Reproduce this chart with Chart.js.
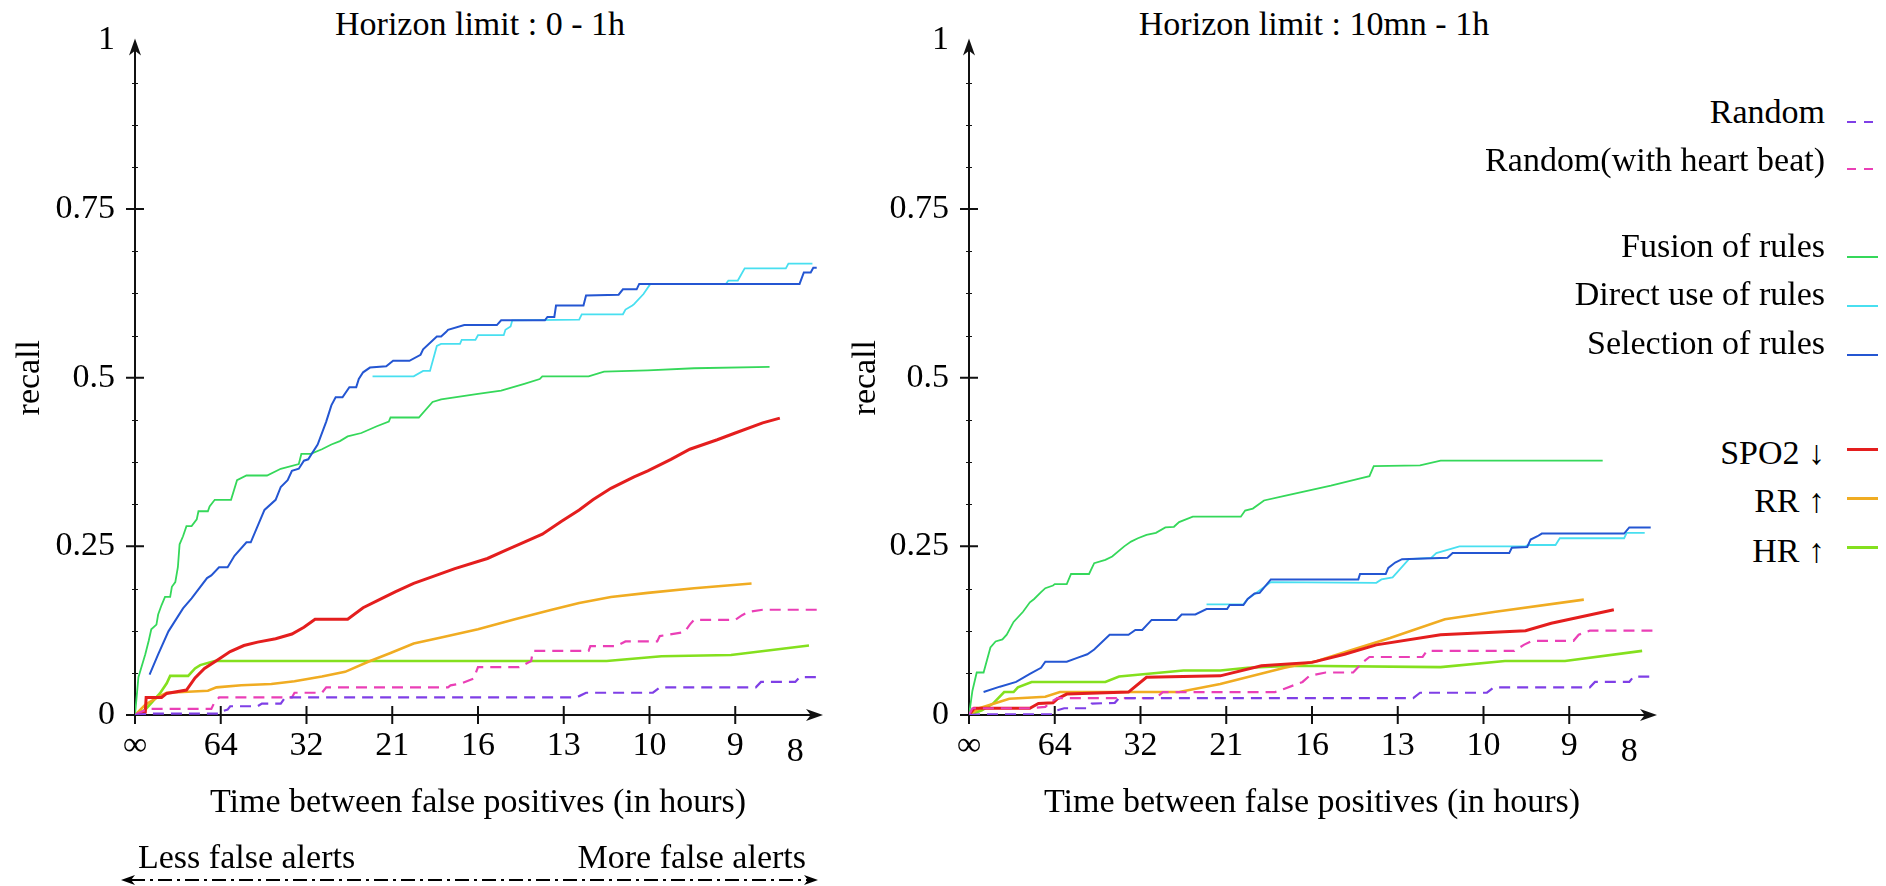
<!DOCTYPE html>
<html lang="en">
<head>
    <meta charset="UTF-8">
    <title>Recall vs time between false positives</title>
    <script src="https://cdn.jsdelivr.net/npm/chart.js"></script>
    <style>
        body {
            margin: 0;
            background: #fff;
            font-family: 'Liberation Serif', 'Times New Roman', serif;
            color: #000;
        }

        .page {
            position: relative;
            width: 1886px;
            height: 886px;
            overflow: hidden;
        }

        canvas {
            position: absolute;
            top: 0;
        }

        #leftChart { left: 0; }
        #rightChart { left: 840px; }

        .chart-title {
            position: absolute;
            top: 7px;
            font-size: 34px;
            line-height: 34px;
            white-space: nowrap;
            transform: translateX(-50%);
        }

        .key {
            position: absolute;
            right: 61px;
            font-size: 34px;
            line-height: 34px;
            white-space: nowrap;
        }

        .sample {
            position: absolute;
            left: 1847px;
            width: 31px;
        }
    </style>
</head>
<body>
<div class="page">
    <div class="chart-title" style="left:480px">Horizon limit : 0 - 1h</div>
    <div class="chart-title" style="left:1314px">Horizon limit : 10mn - 1h</div>
    <canvas id="leftChart" width="840" height="886"></canvas>
    <canvas id="rightChart" width="860" height="886"></canvas>
    <div id="legend"></div>
</div>

<script>
    // x axis: tick positions and their labels (hours between false positives)
    const xTickVals = [0, 1, 2, 3, 4, 5, 6, 7, 7.7];
    const xTickLabels = ['∞', '64', '32', '21', '16', '13', '10', '9', '8'];
    const yTickVals = [0, 0.25, 0.5, 0.75, 1];

    const seriesLabels = ['Random', 'Random(with heart beat)', 'Fusion of rules', 'Direct use of rules',
        'Selection of rules', 'SPO2 ↓', 'RR ↑', 'HR ↑'];

    // ---- Horizon limit : 0 - 1h ----
    const randomLeft = [[0,0],[0.15,0.002],[0.98,0.002],[1.0,0.005],[1.08,0.008],[1.11,0.013],[1.43,0.013],[1.48,0.017],[1.7,0.017],[1.75,0.026],[5.13,0.026],[5.18,0.028],[5.26,0.033],[6.04,0.033],[6.12,0.041],[7.24,0.041],[7.3,0.049],[7.7,0.049],[7.75,0.056],[7.99,0.056]];
    const randomHbLeft = [[0,0],[0.04,0.003],[0.15,0.009],[0.89,0.009],[0.92,0.017],[0.98,0.026],[1.83,0.026],[1.86,0.033],[2.18,0.033],[2.23,0.041],[3.65,0.041],[3.68,0.044],[3.81,0.047],[3.95,0.054],[4.0,0.071],[4.48,0.071],[4.62,0.08],[4.64,0.095],[5.29,0.095],[5.31,0.102],[5.61,0.102],[5.72,0.109],[6.09,0.109],[6.12,0.117],[6.41,0.123],[6.47,0.134],[6.52,0.141],[7.0,0.141],[7.08,0.148],[7.16,0.153],[7.32,0.156],[7.99,0.156]];
    const fusionLeft = [[0,0],[0.04,0.056],[0.08,0.073],[0.12,0.09],[0.16,0.11],[0.19,0.127],[0.25,0.134],[0.27,0.149],[0.31,0.163],[0.35,0.175],[0.41,0.175],[0.43,0.19],[0.47,0.197],[0.5,0.219],[0.52,0.253],[0.56,0.265],[0.6,0.28],[0.66,0.28],[0.72,0.29],[0.74,0.302],[0.85,0.302],[0.87,0.309],[0.93,0.319],[1.12,0.319],[1.19,0.348],[1.3,0.355],[1.54,0.355],[1.7,0.365],[1.91,0.372],[1.94,0.387],[2.05,0.387],[2.18,0.394],[2.29,0.401],[2.39,0.406],[2.48,0.413],[2.64,0.418],[2.82,0.428],[2.96,0.435],[2.98,0.441],[3.31,0.441],[3.47,0.464],[3.57,0.468],[4.0,0.476],[4.27,0.481],[4.54,0.491],[4.72,0.498],[4.75,0.502],[5.29,0.502],[5.47,0.509],[5.98,0.511],[6.52,0.514],[7.4,0.516]];
    const directLeft = [[2.77,0.502],[3.25,0.502],[3.36,0.51],[3.44,0.51],[3.52,0.547],[3.57,0.55],[3.79,0.55],[3.81,0.556],[3.97,0.556],[4.0,0.563],[4.3,0.563],[4.32,0.571],[4.38,0.576],[4.4,0.585],[5.18,0.586],[5.21,0.594],[5.69,0.594],[5.72,0.601],[5.8,0.607],[5.82,0.609],[5.93,0.624],[6.01,0.639],[6.89,0.639],[6.92,0.644],[7.03,0.644],[7.11,0.662],[7.59,0.662],[7.62,0.669],[7.9,0.669]];
    const selectionLeft = [[0.17,0.06],[0.27,0.09],[0.39,0.124],[0.56,0.158],[0.66,0.173],[0.84,0.203],[0.89,0.207],[0.98,0.219],[1.08,0.219],[1.16,0.236],[1.3,0.256],[1.35,0.256],[1.51,0.304],[1.64,0.319],[1.7,0.338],[1.78,0.348],[1.83,0.362],[1.91,0.365],[1.97,0.377],[2.02,0.379],[2.13,0.401],[2.23,0.435],[2.29,0.459],[2.34,0.471],[2.42,0.471],[2.5,0.486],[2.58,0.486],[2.61,0.498],[2.66,0.508],[2.74,0.515],[2.93,0.517],[3.01,0.525],[3.2,0.525],[3.33,0.534],[3.36,0.542],[3.52,0.561],[3.57,0.561],[3.63,0.568],[3.65,0.571],[3.84,0.578],[4.22,0.578],[4.27,0.585],[4.78,0.585],[4.81,0.59],[4.89,0.59],[4.91,0.607],[5.23,0.607],[5.26,0.622],[5.64,0.623],[5.69,0.631],[5.85,0.631],[5.88,0.639],[7.75,0.639],[7.8,0.656],[7.88,0.656],[7.91,0.663],[7.95,0.663]];
    const spo2Left = [[0,0],[0.12,0.004],[0.13,0.026],[0.31,0.026],[0.37,0.032],[0.6,0.037],[0.7,0.055],[0.81,0.069],[0.98,0.083],[1.11,0.094],[1.27,0.103],[1.43,0.108],[1.64,0.113],[1.83,0.12],[1.97,0.13],[2.1,0.142],[2.48,0.142],[2.66,0.159],[2.88,0.173],[3.04,0.183],[3.25,0.195],[3.47,0.205],[3.73,0.217],[4.11,0.232],[4.32,0.244],[4.48,0.253],[4.75,0.268],[4.97,0.287],[5.18,0.304],[5.34,0.319],[5.55,0.336],[5.82,0.353],[5.98,0.362],[6.25,0.379],[6.47,0.394],[6.79,0.408],[7.0,0.418],[7.32,0.433],[7.52,0.44]];
    const rrLeft = [[0,0],[0.12,0.015],[0.27,0.027],[0.37,0.033],[0.56,0.034],[0.85,0.036],[0.95,0.041],[1.24,0.044],[1.59,0.046],[1.86,0.05],[2.18,0.057],[2.45,0.064],[2.72,0.079],[2.98,0.092],[3.25,0.106],[3.57,0.115],[4.0,0.127],[4.43,0.142],[4.86,0.156],[5.18,0.166],[5.55,0.175],[5.98,0.181],[6.52,0.188],[7.19,0.195]];
    const hrLeft = [[0,0],[0.12,0.008],[0.29,0.032],[0.37,0.047],[0.41,0.058],[0.62,0.058],[0.7,0.069],[0.76,0.074],[0.93,0.08],[5.5,0.08],[6.14,0.087],[6.95,0.089],[7.86,0.103]];

    // ---- Horizon limit : 10mn - 1h ----
    const randomRight = [[0,0],[0.15,0.001],[0.98,0.001],[1.03,0.007],[1.11,0.01],[1.38,0.01],[1.43,0.017],[1.7,0.018],[1.75,0.025],[5.18,0.025],[5.26,0.033],[6.04,0.033],[6.12,0.041],[7.24,0.041],[7.3,0.049],[7.7,0.049],[7.75,0.057],[7.97,0.057]];
    const randomHbRight = [[0,0],[0.04,0.01],[0.71,0.01],[0.89,0.012],[0.95,0.019],[1.03,0.025],[2.18,0.025],[2.26,0.034],[3.57,0.034],[3.68,0.039],[3.89,0.049],[3.97,0.058],[4.16,0.063],[4.48,0.063],[4.59,0.078],[4.67,0.086],[5.29,0.086],[5.34,0.095],[6.36,0.095],[6.47,0.104],[6.57,0.11],[7.05,0.11],[7.11,0.119],[7.24,0.125],[7.97,0.125]];
    const fusionRight = [[0,0],[0.04,0.036],[0.09,0.063],[0.17,0.063],[0.25,0.1],[0.31,0.109],[0.39,0.112],[0.44,0.119],[0.52,0.138],[0.63,0.153],[0.71,0.167],[0.76,0.172],[0.84,0.182],[0.89,0.188],[0.98,0.192],[1.0,0.194],[1.14,0.194],[1.19,0.209],[1.4,0.209],[1.46,0.225],[1.59,0.23],[1.67,0.235],[1.81,0.25],[1.89,0.257],[1.97,0.262],[2.07,0.267],[2.18,0.27],[2.29,0.278],[2.39,0.279],[2.45,0.286],[2.61,0.294],[3.17,0.294],[3.22,0.303],[3.31,0.306],[3.44,0.318],[3.68,0.325],[4.22,0.34],[4.54,0.35],[4.67,0.354],[4.72,0.369],[5.26,0.37],[5.5,0.377],[7.39,0.377]];
    const directRight = [[2.77,0.164],[3.2,0.164],[3.25,0.172],[3.36,0.182],[3.52,0.197],[4.75,0.196],[4.81,0.201],[4.94,0.204],[4.99,0.211],[5.13,0.231],[5.39,0.233],[5.45,0.24],[5.72,0.25],[6.49,0.25],[6.52,0.252],[6.84,0.252],[6.89,0.262],[7.64,0.262],[7.67,0.27],[7.88,0.27]];
    const selectionRight = [[0.17,0.034],[0.36,0.042],[0.55,0.049],[0.71,0.061],[0.84,0.07],[0.89,0.079],[1.14,0.079],[1.27,0.085],[1.38,0.09],[1.46,0.097],[1.64,0.119],[1.86,0.119],[1.94,0.126],[2.02,0.126],[2.13,0.141],[2.42,0.141],[2.48,0.149],[2.64,0.149],[2.77,0.157],[3.01,0.157],[3.04,0.163],[3.2,0.163],[3.25,0.172],[3.33,0.18],[3.39,0.181],[3.52,0.201],[4.54,0.201],[4.56,0.209],[4.86,0.209],[4.89,0.218],[4.97,0.226],[5.05,0.231],[5.58,0.233],[5.64,0.24],[6.3,0.24],[6.33,0.248],[6.51,0.249],[6.55,0.26],[6.63,0.265],[6.68,0.269],[7.64,0.269],[7.7,0.278],[7.95,0.278]];
    const spo2Right = [[0,0],[0.06,0.01],[0.71,0.01],[0.81,0.017],[0.98,0.018],[1.03,0.024],[1.14,0.031],[1.86,0.034],[2.07,0.056],[2.93,0.058],[3.41,0.073],[4.0,0.078],[4.38,0.09],[4.75,0.104],[5.5,0.119],[6.49,0.125],[6.79,0.136],[7.52,0.156]];
    const rrRight = [[0,0],[0.12,0.01],[0.47,0.024],[0.89,0.027],[1.06,0.034],[2.45,0.034],[2.93,0.046],[3.68,0.07],[4.06,0.08],[4.48,0.097],[4.91,0.114],[5.55,0.142],[6.14,0.153],[7.17,0.171]];
    const hrRight = [[0,0],[0.15,0.007],[0.28,0.017],[0.41,0.034],[0.52,0.034],[0.57,0.041],[0.73,0.049],[1.59,0.049],[1.75,0.057],[2.5,0.066],[2.93,0.066],[3.25,0.07],[3.79,0.073],[5.5,0.071],[6.25,0.08],[6.95,0.08],[7.85,0.095]];

    // line styles, same order as seriesLabels
    const seriesColors = ['#7f3fe6', '#ea3fb6', '#35d85a', '#48dff0', '#2456d2', '#e41e1e', '#f0ac22', '#84e01e'];
    const seriesWidths = [2.2, 2.2, 1.8, 1.8, 2, 3, 2.6, 2.6];
    const seriesDashed = [true, true, false, false, false, false, false, false];

    // legend rows: text baseline and sample line y (page pixels)
    const keyBaselines = [123, 171, 257, 305.5, 354, 464, 512, 562];
    const keySampleY = [122, 169, 257, 305.5, 354.5, 449.5, 498.5, 547.5];

    Chart.defaults.font.family = "'Liberation Serif', 'Times New Roman', serif";
    Chart.defaults.font.size = 34;
    Chart.defaults.color = '#000';

    function makeDatasets(groups) {
        return groups.map((pts, i) => ({
            label: seriesLabels[i],
            data: pts.map(p => ({ x: p[0], y: p[1] })),
            borderColor: seriesColors[i],
            backgroundColor: seriesColors[i],
            borderWidth: seriesWidths[i],
            borderDash: seriesDashed[i] ? [11, 7] : [],
            pointRadius: 0,
            tension: 0,
            fill: false,
            order: i === 4 ? -1 : 0
        }));
    }

    function arrowHead(ctx, tx, ty, dx, dy, len, half) {
        const bx = tx - dx * len, by = ty - dy * len;
        const nx = -dy, ny = dx;
        ctx.beginPath();
        ctx.moveTo(tx, ty);
        ctx.lineTo(bx + nx * half, by + ny * half);
        ctx.lineTo(tx - dx * len * 0.72, ty - dy * len * 0.72);
        ctx.lineTo(bx - nx * half, by - ny * half);
        ctx.closePath();
        ctx.fill();
    }

    // axes with arrows and crossing tick marks, drawn under the curves
    const axesDecor = {
        id: 'axesDecor',
        beforeDatasetsDraw(chart) {
            const { ctx, scales: { x, y } } = chart;
            const x0 = x.getPixelForValue(0), xEnd = x.getPixelForValue(8);
            const y0 = y.getPixelForValue(0), yTop = y.getPixelForValue(1);
            ctx.save();
            ctx.strokeStyle = '#111';
            ctx.fillStyle = '#111';
            ctx.lineWidth = 2;
            ctx.beginPath();
            ctx.moveTo(x0 - 9, y0); ctx.lineTo(xEnd - 8, y0);
            ctx.moveTo(x0, y0 + 9); ctx.lineTo(x0, yTop + 8);
            yTickVals.forEach(v => {
                if (v > 0 && v < 1) {
                    const py = y.getPixelForValue(v);
                    ctx.moveTo(x0 - 9, py); ctx.lineTo(x0 + 9, py);
                }
            });
            xTickVals.forEach(v => {
                if (v > 0 && Number.isInteger(v)) {
                    const px = x.getPixelForValue(v);
                    ctx.moveTo(px, y0 - 9); ctx.lineTo(px, y0 + 9);
                }
            });
            ctx.stroke();

            // small minor ticks on the recall axis
            ctx.lineWidth = 1;
            ctx.beginPath();
            for (let k = 1; k < 16; k++) {
                if (k % 4 === 0) continue;
                const py = Math.round(y.getPixelForValue(k / 16)) + 0.5;
                ctx.moveTo(x0 - 3, py); ctx.lineTo(x0 + 3, py);
            }
            ctx.stroke();

            arrowHead(ctx, xEnd + 2, y0, 1, 0, 17, 6);
            arrowHead(ctx, x0, yTop - 2, 0, -1, 17, 6);
            ctx.restore();
        }
    };

    // "Less / More false alerts" double arrow under the left chart
    const alertArrow = {
        id: 'alertArrow',
        afterDraw(chart) {
            const { ctx, scales: { x } } = chart;
            const left = x.getPixelForValue(0) - 14;
            const right = x.getPixelForValue(8) - 3;
            const yy = 880;
            ctx.save();
            ctx.fillStyle = '#000';
            ctx.strokeStyle = '#000';
            ctx.font = "34px 'Liberation Serif', 'Times New Roman', serif";
            ctx.textBaseline = 'alphabetic';
            ctx.textAlign = 'left';
            ctx.fillText('Less false alerts', 138, 868);
            ctx.textAlign = 'right';
            ctx.fillText('More false alerts', 806, 868);

            ctx.lineWidth = 2;
            ctx.setLineDash([14, 5, 3, 5]);
            ctx.beginPath();
            ctx.moveTo(left + 10, yy);
            ctx.lineTo(right - 10, yy);
            ctx.stroke();
            ctx.setLineDash([]);
            arrowHead(ctx, left, yy, -1, 0, 14, 5);
            arrowHead(ctx, right, yy, 1, 0, 14, 5);
            ctx.restore();
        }
    };

    function buildOptions(yAxisWidth, rightPad, recallPad) {
        return {
            responsive: false,
            animation: false,
            layout: { padding: { top: 29, right: rightPad, bottom: 0, left: 0 } },
            plugins: {
                legend: { display: false },
                tooltip: { enabled: false }
            },
            scales: {
                x: {
                    type: 'linear',
                    min: 0,
                    max: 8,
                    grid: { display: false, drawTicks: false },
                    border: { display: false },
                    afterBuildTicks: (scale) => {
                        scale.ticks = xTickVals.map(v => ({ value: v }));
                    },
                    afterFit: (scale) => { scale.height = 171; },
                    ticks: {
                        autoSkip: false,
                        maxRotation: 0,
                        padding: 11,
                        callback: (value, index) => xTickLabels[index],
                        // the "8" sits a little lower than the others
                        font: (ctx) => ({ size: 34, lineHeight: ctx.index === 8 ? 1.55 : 1.2 })
                    },
                    title: {
                        display: true,
                        text: 'Time between false positives (in hours)',
                        padding: { top: 4, bottom: 63 }
                    }
                },
                y: {
                    type: 'linear',
                    min: 0,
                    max: 1,
                    grid: { display: false, drawTicks: false },
                    border: { display: false },
                    afterBuildTicks: (scale) => {
                        scale.ticks = yTickVals.map(v => ({ value: v }));
                    },
                    afterFit: (scale) => { scale.width = yAxisWidth; },
                    ticks: {
                        padding: 20,
                        callback: (value) => String(value)
                    },
                    title: {
                        display: true,
                        text: 'recall',
                        padding: { top: recallPad, bottom: 0 }
                    }
                }
            }
        };
    }

    const leftChart = new Chart(document.getElementById('leftChart'), {
        type: 'line',
        data: {
            datasets: makeDatasets([randomLeft, randomHbLeft, fusionLeft, directLeft,
                selectionLeft, spo2Left, rrLeft, hrLeft])
        },
        options: buildOptions(135, 19, 9.6),
        plugins: [axesDecor, alertArrow]
    });

    const rightChart = new Chart(document.getElementById('rightChart'), {
        type: 'line',
        data: {
            datasets: makeDatasets([randomRight, randomHbRight, fusionRight, directRight,
                selectionRight, spo2Right, rrRight, hrRight])
        },
        options: buildOptions(129, 45, 5.6),
        plugins: [axesDecor]
    });

    // legend on the right, built from the right chart's datasets
    const legendBox = document.getElementById('legend');
    rightChart.data.datasets.forEach((ds, i) => {
        const key = document.createElement('div');
        key.className = 'key';
        key.style.top = (keyBaselines[i] - 28.5) + 'px';
        key.textContent = ds.label;
        legendBox.appendChild(key);

        const sample = document.createElement('div');
        sample.className = 'sample';
        const h = Math.max(2, Math.round(ds.borderWidth));
        sample.style.top = (keySampleY[i] - h / 2) + 'px';
        sample.style.height = h + 'px';
        sample.style.background = ds.borderDash.length
            ? `repeating-linear-gradient(to right, ${ds.borderColor} 0 9px, transparent 9px 17px)`
            : ds.borderColor;
        legendBox.appendChild(sample);
    });
</script>
</body>
</html>
